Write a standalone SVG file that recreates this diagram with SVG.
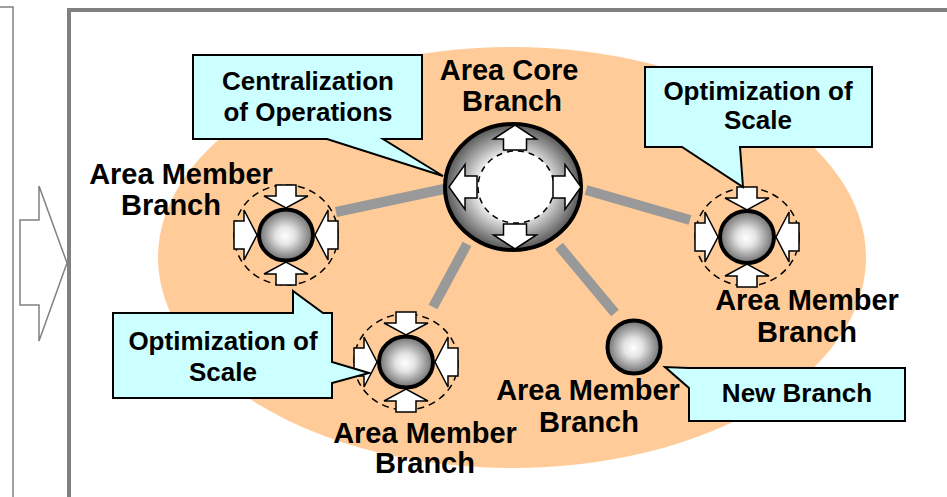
<svg xmlns="http://www.w3.org/2000/svg" width="947" height="497" viewBox="0 0 947 497">
  <defs>
    <style>
      .frame { fill: none; stroke: #808080; }
      .conn { stroke: #999999; stroke-width: 10; stroke-linecap: butt; fill: none; }
      .callout { fill: #CCFFFF; stroke: #000; stroke-width: 2; stroke-linejoin: miter; }
      .ctext { font-family: "Liberation Sans", Arial, sans-serif; font-weight: bold; font-size: 26px; fill: #000; text-anchor: middle; }
      .label { font-family: "Liberation Sans", Arial, sans-serif; font-weight: bold; font-size: 29px; fill: #000; text-anchor: middle; }
      .ball { fill: url(#ballGrad); stroke: #000; stroke-width: 4; }
      .ring { fill: none; stroke: #000; stroke-width: 1.5; stroke-dasharray: 7 5; }
      .arr { fill: #fff; stroke: #000; stroke-width: 1.5; stroke-linejoin: miter; }
    </style>
    <radialGradient id="ballGrad" cx="50%" cy="50%" r="50%" fx="48%" fy="52%">
      <stop offset="0%" stop-color="#ffffff"/>
      <stop offset="35%" stop-color="#e4e4e4"/>
      <stop offset="100%" stop-color="#6e6e6e"/>
    </radialGradient>
    <radialGradient id="coreGrad" cx="50%" cy="50%" r="50%">
      <stop offset="0%" stop-color="#ffffff"/>
      <stop offset="55%" stop-color="#e6e6e6"/>
      <stop offset="100%" stop-color="#555555"/>
    </radialGradient>
    <!-- inward arrow, from the top ring edge down to the ball -->
    <path id="arrDown" class="arr" d="M -10,-50 H 10 V -39 H 22 L 0,-27 L -22,-39 H -10 Z"/>
    <!-- inward arrow, from the left ring edge right to the ball -->
    <path id="arrRight" class="arr" d="M -52,-14 H -42 V -25 L -29,0 L -42,25 V 14 H -52 Z"/>
    <!-- outward arrows of the core branch -->
    <path id="coreUp" class="arr" d="M -11.5,-37 V -48 H -21.5 L 0,-62 L 21.5,-48 H 11.5 V -37 Z"/>
    <path id="coreLeft" class="arr" d="M -38,-11 H -50 V -22.5 L -66,0 L -50,22.5 V 11 H -38 Z"/>
  </defs>

  <rect width="947" height="497" fill="#ffffff"/>

  <!-- previous panel edge and transition arrow -->
  <path class="frame" stroke-width="1.5" d="M0,7 H13 V497"/>
  <polygon class="frame" stroke-width="1.5" fill="#fff" points="20,220 39,220 39,186 67,263 39,341 39,305 20,305"/>

  <!-- main panel frame -->
  <rect class="frame" stroke-width="4" x="69" y="10" width="900" height="500"/>

  <!-- area background -->
  <ellipse cx="512" cy="257.5" rx="354" ry="210.5" fill="#FFCC99"/>

  <!-- links between branches -->
  <g id="connectors">
    <line class="conn" x1="336" y1="212" x2="444" y2="189"/>
    <line class="conn" x1="467" y1="244" x2="433" y2="307"/>
    <line class="conn" x1="559" y1="246" x2="615" y2="313"/>
    <line class="conn" x1="586" y1="190" x2="690" y2="220"/>
  </g>

  <!-- core branch -->
  <g id="core-branch">
    <ellipse cx="513" cy="187" rx="68" ry="63" fill="url(#coreGrad)" stroke="#000" stroke-width="4"/>
    <ellipse cx="516" cy="187" rx="38" ry="36" fill="#fff" stroke="#000" stroke-width="1.5" stroke-dasharray="6 5"/>
    <g transform="translate(515,187)">
      <use href="#coreUp"/>
      <use href="#coreUp" transform="rotate(180)"/>
      <use href="#coreLeft"/>
      <use href="#coreLeft" transform="rotate(180)"/>
    </g>
    <text class="label" font-size="30" x="509" y="80">Area Core</text>
    <text class="label" font-size="30" x="512" y="111">Branch</text>
  </g>

  <!-- member branch, left -->
  <g id="member-left">
    <g transform="translate(286,235)">
      <ellipse class="ring" rx="52" ry="50"/>
      <use href="#arrDown"/>
      <use href="#arrDown" transform="rotate(180)"/>
      <use href="#arrRight"/>
      <use href="#arrRight" transform="rotate(180)"/>
      <ellipse class="ball" rx="27" ry="25.5"/>
    </g>
    <text class="label" font-size="30" x="181" y="184">Area Member</text>
    <text class="label" x="171" y="215">Branch</text>
  </g>

  <!-- member branch, bottom -->
  <g id="member-bottom">
    <g transform="translate(406,362)">
      <ellipse class="ring" rx="52" ry="48"/>
      <use href="#arrDown"/>
      <use href="#arrDown" transform="rotate(180)"/>
      <use href="#arrRight"/>
      <use href="#arrRight" transform="rotate(180)"/>
      <ellipse class="ball" rx="27" ry="25.5"/>
    </g>
    <text class="label" x="425" y="443">Area Member</text>
    <text class="label" x="425" y="473">Branch</text>
  </g>

  <!-- member branch, right -->
  <g id="member-right">
    <g transform="translate(747,237)">
      <ellipse class="ring" rx="52" ry="49"/>
      <use href="#arrDown"/>
      <use href="#arrDown" transform="rotate(180)"/>
      <use href="#arrRight"/>
      <use href="#arrRight" transform="rotate(180)"/>
      <ellipse class="ball" rx="27" ry="26"/>
    </g>
    <text class="label" x="807" y="310">Area Member</text>
    <text class="label" x="807" y="342">Branch</text>
  </g>

  <!-- new member branch -->
  <g id="member-new">
    <ellipse class="ball" cx="634" cy="347" rx="26.5" ry="26.5"/>
    <text class="label" x="588" y="400">Area Member</text>
    <text class="label" x="589" y="432">Branch</text>
  </g>

  <!-- callouts -->
  <g id="callout-centralization">
    <path class="callout" d="M193,55 H422 V139 H383 L443,176 L327,139 H193 Z"/>
    <text class="ctext" x="308" y="90">Centralization</text>
    <text class="ctext" x="308" y="121">of Operations</text>
  </g>
  <g id="callout-scale-right">
    <path class="callout" d="M645,67 H872 V147 H740 L743,187 L682,147 H645 Z"/>
    <text class="ctext" x="758" y="100">Optimization of</text>
    <text class="ctext" x="758" y="129">Scale</text>
  </g>
  <g id="callout-scale-left">
    <path class="callout" d="M113,313 H293 V291 L323,313 H332 V362 L369,373 L332,383 V398 H113 Z"/>
    <text class="ctext" x="223" y="350">Optimization of</text>
    <text class="ctext" x="223" y="381">Scale</text>
  </g>
  <g id="callout-new">
    <path class="callout" d="M689,368 H905 V421 H689 V388 L665,367 Z"/>
    <text class="ctext" x="797" y="402">New Branch</text>
  </g>
</svg>
